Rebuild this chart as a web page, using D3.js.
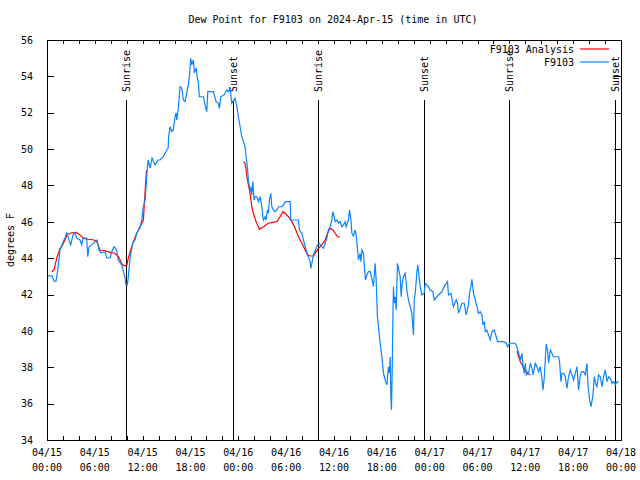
<!DOCTYPE html>
<html><head><meta charset="utf-8">
<script src="https://cdn.jsdelivr.net/npm/d3@7"></script>
<style>
body{margin:0;background:#fff;}
text{font-family:"DejaVu Sans Mono","Liberation Mono",monospace;font-size:10px;fill:#000;}
</style></head>
<body><svg id="c" width="640" height="480"></svg>
<script>
// Hours since 2024-04-15 00:00 UTC
const obsHours = [0,0.63,0.88,1.13,1.26,1.38,1.63,1.88,2.13,2.26,2.47,2.97,3.26,3.51,3.73,4.14,4.35,4.52,4.98,5.11,5.27,5.61,6.02,6.28,6.53,6.74,7.28,7.49,7.91,8.12,8.41,8.75,8.91,9.37,9.58,9.79,9.91,10.08,10.2,10.42,10.76,11.04,11.26,11.67,11.88,12.09,12.3,12.55,12.68,12.93,13.18,13.55,13.93,14.18,14.6,15.02,15.2,15.25,15.44,15.65,15.85,16.06,16.19,16.28,16.48,16.69,16.9,17.11,17.32,17.53,17.73,17.86,18.03,18.16,18.36,18.49,18.7,18.86,18.99,19.11,19.62,19.83,20.04,20.17,20.87,21.21,21.5,21.62,21.8,22.21,22.55,22.75,22.97,23.18,23.59,23.81,24.01,24.22,24.43,24.64,24.85,24.97,25.14,25.26,25.48,25.56,25.69,25.82,25.98,26.1,26.32,26.52,26.73,26.95,27.07,27.15,27.36,27.48,27.65,27.77,27.9,28.07,28.2,28.4,28.61,28.83,29.03,29.46,29.66,29.87,30.5,30.58,31.54,31.66,31.97,32.17,32.5,32.67,33.01,33.09,33.22,33.42,33.76,33.92,34.17,34.47,34.68,34.89,35.1,35.3,35.52,35.73,35.86,36.02,36.15,36.36,36.56,36.77,36.99,37.19,37.4,37.52,37.81,37.94,38.11,38.24,38.44,38.65,38.78,38.94,39.07,39.28,39.37,39.5,39.7,39.79,39.95,40.12,40.32,40.54,40.75,40.95,41.16,41.29,41.45,41.7,41.88,42.0,42.21,42.42,42.63,42.83,42.96,43.05,43.13,43.21,43.3,43.39,43.46,43.55,43.67,43.8,43.96,44.09,44.3,44.43,44.55,44.72,44.93,45.14,45.34,45.56,45.77,45.89,45.97,46.06,46.19,46.4,46.52,46.6,46.81,47.02,47.31,47.44,47.85,48.07,48.4,48.57,48.91,49.32,49.53,49.95,50.24,50.36,50.66,50.79,50.99,51.33,51.49,51.62,51.83,52.05,52.33,52.58,52.87,53.0,53.17,53.3,53.5,53.72,53.93,54.13,54.34,54.56,54.68,54.85,54.97,55.18,55.39,55.6,55.81,56.1,56.35,56.52,57.27,57.61,57.77,58.02,58.45,58.74,58.95,59.16,59.37,59.58,59.71,59.87,59.99,60.11,60.41,60.62,60.83,60.96,61.24,61.46,61.66,61.87,62.08,62.21,62.37,62.5,62.62,62.79,62.91,63.13,63.34,63.54,64.17,64.29,64.47,64.6,64.8,65.01,65.22,65.42,65.64,65.85,66.05,66.26,66.48,66.68,66.89,67.1,67.31,67.52,67.73,67.86,68.06,68.24,68.49,68.65,68.86,68.99,69.19,69.4,69.62,69.82,70.03,70.24,70.45,70.66,70.87,71.07,71.28,71.5,71.7];
const obsDew = [43.04,43.02,42.74,42.74,43.08,43.46,44.45,44.73,45.0,45.11,45.39,44.73,45.28,45.39,45.11,45.0,44.73,45.11,45.11,44.08,44.63,44.73,44.91,45.0,44.45,44.29,44.36,44.01,44.01,44.36,44.63,44.45,43.9,43.63,43.26,42.91,42.53,42.53,42.98,44.01,44.84,45.0,45.39,45.66,46.1,46.83,47.2,48.74,49.4,48.96,49.51,49.13,49.4,49.4,49.58,49.95,50.06,50.68,51.23,50.96,51.05,51.78,51.99,51.6,52.26,53.43,53.36,52.7,52.61,53.09,53.53,53.98,54.99,54.63,54.9,54.19,54.46,53.91,53.64,52.88,52.88,52.43,52.06,53.16,53.16,52.61,52.52,52.24,52.88,52.98,53.25,53.16,53.34,52.52,52.79,52.33,51.78,51.23,50.68,50.41,50.13,49.58,49.03,48.3,47.66,47.93,47.48,48.21,47.2,47.38,47.38,47.11,47.38,46.83,46.28,46.1,46.28,46.1,46.65,46.47,47.2,47.57,46.83,46.65,46.56,46.65,46.83,46.83,46.93,47.11,47.11,46.1,46.1,45.55,45.37,45.0,44.45,44.18,43.81,43.44,43.72,44.18,44.54,44.73,44.82,44.63,44.54,44.82,45.09,45.55,45.73,46.1,46.56,46.28,46.01,46.1,45.92,46.01,45.73,45.83,46.01,45.73,46.1,46.65,46.19,45.37,45.22,45.55,45.28,44.54,43.9,44.27,43.81,44.45,44.27,43.63,42.8,43.08,43.26,43.26,42.89,42.43,43.72,42.8,40.78,39.68,39.04,38.58,37.67,37.3,37.03,38.03,37.67,38.58,36.38,35.65,37.85,40.78,42.43,41.52,41.88,41.15,43.72,43.44,42.98,41.88,42.62,42.98,43.17,42.25,41.7,41.33,40.97,40.23,39.78,41.7,42.07,43.26,43.63,43.26,42.43,41.98,42.07,42.62,42.43,42.25,42.16,41.7,41.88,42.07,42.16,42.53,42.71,41.98,42.07,41.79,41.33,41.7,41.52,40.97,41.24,41.52,41.52,40.88,41.43,42.07,42.43,42.84,42.07,41.7,41.33,40.97,41.06,40.88,40.33,40.51,39.96,40.05,39.78,39.5,39.96,40.05,39.68,39.41,39.41,39.32,39.13,39.32,39.32,39.32,39.13,38.77,38.4,38.77,38.03,37.67,38.22,37.58,37.67,38.22,37.94,37.58,38.22,38.03,37.76,38.03,37.39,36.75,37.39,38.4,39.28,38.95,38.22,38.95,38.77,38.58,38.58,38.31,37.21,37.67,37.67,37.48,36.84,37.48,37.85,37.58,37.3,37.67,38.03,36.75,37.58,37.76,37.76,37.58,38.22,37.03,36.2,35.83,36.48,37.48,37.03,36.93,37.58,37.48,36.93,37.48,37.85,37.21,37.48,37.39,37.12,37.21,37.03,37.21,37.21];

// Analysis series (null marks a gap)
const anaHours = [0.59,0.88,1.22,1.63,1.84,2.26,2.55,3.1,3.64,4.14,4.56,5.18,5.9,6.24,6.65,7.28,7.91,8.53,8.95,9.37,9.58,10.0,10.2,10.5,10.83,11.26,11.67,12.09,12.24,12.36,12.49,
  null,
  24.64,24.85,24.97,25.14,25.39,25.56,25.69,25.89,26.23,26.64,27.15,27.77,28.83,29.24,29.58,29.87,30.28,30.71,31.12,31.54,31.97,32.38,32.67,33.01,33.42,33.76,34.05,34.47,34.89,35.18,35.52,35.86,36.15,36.44,36.77,
  null,
  58.95,59.16,59.37,59.62,59.87,60.11,60.37,60.62];
const anaDew = [43.26,43.35,44.0,44.54,44.63,45.0,45.31,45.4,45.42,45.28,45.09,45.04,45.0,44.91,44.45,44.41,44.32,44.27,44.08,43.72,43.59,43.59,44.0,44.45,44.91,45.37,45.73,46.1,47.2,48.03,48.85,
  null,
  49.31,49.22,48.85,48.3,47.75,47.29,46.83,46.47,46.01,45.59,45.73,45.92,46.01,46.28,46.56,46.47,46.28,46.01,45.64,45.18,44.82,44.45,44.18,44.12,44.12,44.36,44.54,44.73,45.0,45.37,45.64,45.55,45.37,45.18,45.15,
  null,
  38.9,38.57,38.3,38.13,37.9,37.8,37.64,37.58];

const sunriseHours = [9.92, 34.05, 58.0];
const sunsetHours = [23.3, 47.33, 71.27];

const xTickHours = [0,6,12,18,24,30,36,42,48,54,60,66,72];
const xTickDays = ["04/15","04/15","04/15","04/15","04/16","04/16","04/16","04/16","04/17","04/17","04/17","04/17","04/18"];
const xTickTimes = ["00:00","06:00","12:00","18:00","00:00","06:00","12:00","18:00","00:00","06:00","12:00","18:00","00:00"];
const yTicks = [34,36,38,40,42,44,46,48,50,52,54,56];

const titleText = "Dew Point for F9103 on 2024-Apr-15 (time in UTC)";
const yLabel = "degrees F";
const seriesNames = ["F9103 Analysis","F9103"];
const seriesColors = ["#ff0000","#0a84ff"];

const L=47,R=621,T=40,B=440;
const svg = d3.select("#c");
const x = d3.scaleLinear().domain([0,72]).range([L,R]);
const y = d3.scaleLinear().domain([34,56]).range([B,T]);

// title
svg.append("text").attr("x",333).attr("y",23).attr("text-anchor","middle").text(titleText);
// y label
svg.append("text").attr("transform","translate(14,240) rotate(-90)").attr("text-anchor","middle").text(yLabel);

// axes ticks (inward)
const gB = svg.append("g").attr("transform",`translate(0,${B})`)
  .call(d3.axisBottom(x).tickValues(d3.range(0,73,2)).tickSizeInner(-4).tickSizeOuter(0).tickFormat(""));
const gT = svg.append("g").attr("transform",`translate(0,${T})`)
  .call(d3.axisTop(x).tickValues(d3.range(0,73,2)).tickSizeInner(-4).tickSizeOuter(0).tickFormat(""));
const gL = svg.append("g").attr("transform",`translate(${L},0)`)
  .call(d3.axisLeft(y).tickValues(yTicks).tickSizeInner(-7).tickSizeOuter(0).tickPadding(14).tickFormat(d3.format("d")));
const gR = svg.append("g").attr("transform",`translate(${R},0)`)
  .call(d3.axisRight(y).tickValues(yTicks).tickSizeInner(-7).tickSizeOuter(0).tickFormat(""));
[gB,gT,gL,gR].forEach(g=>{g.select(".domain").remove();g.selectAll("line").attr("stroke","#000").attr("shape-rendering","crispEdges");});
gL.selectAll("text").attr("font-family","DejaVu Sans Mono, monospace").attr("font-size","10px").attr("fill","#000");

// x tick labels (two lines)
xTickHours.forEach((h,i)=>{
  const t = svg.append("text").attr("text-anchor","middle");
  t.append("tspan").attr("x",x(h)).attr("y",456).text(xTickDays[i]);
  t.append("tspan").attr("x",x(h)).attr("y",471).text(xTickTimes[i]);
});

// sunrise / sunset lines
const sunEvents = sunriseHours.map(h=>({h,label:"Sunrise"})).concat(sunsetHours.map(h=>({h,label:"Sunset"})));
sunEvents.forEach(e=>{
  svg.append("line").attr("x1",Math.round(x(e.h))+0.5).attr("x2",Math.round(x(e.h))+0.5)
    .attr("y1",100).attr("y2",B).attr("stroke","#000").attr("stroke-width",1);
  svg.append("text").attr("transform",`translate(${x(e.h)+4},92) rotate(-90)`).attr("text-anchor","start").text(e.label);
});

// data lines
const obs = obsHours.map((h,i)=>({h,v:obsDew[i]}));
const ana = anaHours.map((h,i)=>({h,v:anaDew[i]}));
const line = d3.line().defined(d=>d.h!=null && d.v!=null).x(d=>x(d.h)).y(d=>y(d.v));
svg.append("path").datum(ana).attr("d",line).attr("fill","none").attr("stroke",seriesColors[0]).attr("stroke-width",1.2);
svg.append("path").datum(obs).attr("d",line).attr("fill","none").attr("stroke",seriesColors[1]).attr("stroke-width",1.2);

// frame
svg.append("rect").attr("x",L+0.5).attr("y",T+0.5).attr("width",R-L).attr("height",B-T)
  .attr("fill","none").attr("stroke","#000").attr("shape-rendering","crispEdges");

// legend
seriesNames.forEach((n,i)=>{
  const yy = 49 + i*13;
  svg.append("text").attr("x",574).attr("y",yy).attr("dy","0.35em").attr("text-anchor","end").text(n);
  svg.append("line").attr("x1",580).attr("x2",609).attr("y1",yy).attr("y2",yy).attr("stroke",seriesColors[i]).attr("stroke-width",1.2);
});
</script></body></html>
